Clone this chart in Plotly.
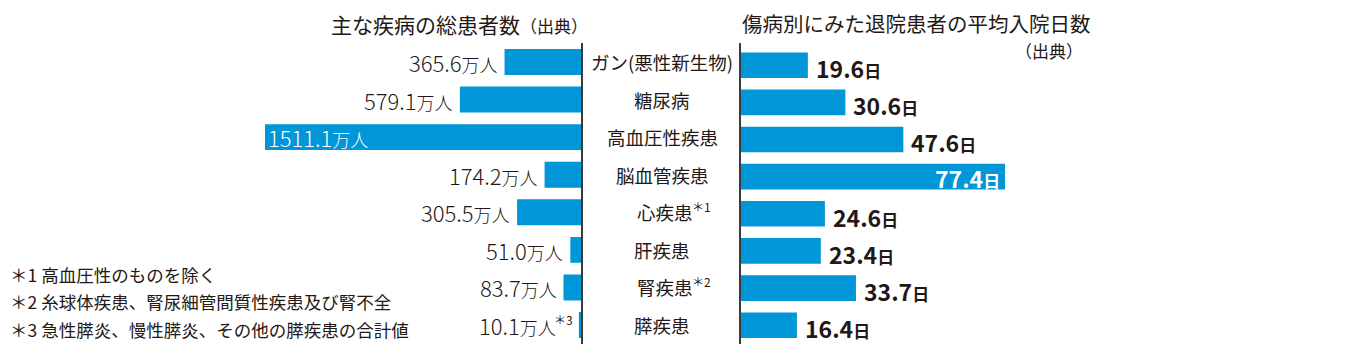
import plotly.graph_objects as go

# ---- data ----
categories = ["ガン(悪性新生物)", "糖尿病", "高血圧性疾患", "脳血管疾患",
              "心疾患", "肝疾患", "腎疾患", "膵疾患"]
category_notes = ["", "", "", "", "＊1", "", "＊2", ""]
patients = [365.6, 579.1, 1511.1, 174.2, 305.5, 51.0, 83.7, 10.1]   # 万人
patient_notes = ["", "", "", "", "", "", "", "＊3"]
days = [19.6, 30.6, 47.6, 77.4, 24.6, 23.4, 33.7, 16.4]             # 日
left_title = "主な疾病の総患者数"
right_title = "傷病別にみた退院患者の平均入院日数"
source_label = "（出典）"
footnotes = ["＊1 高血圧性のものを除く",
             "＊2 糸球体疾患、腎尿細管間質性疾患及び腎不全",
             "＊3 急性膵炎、慢性膵炎、その他の膵疾患の合計値"]

# ---- styling ----
W, H = 1360, 361
OFF = 8  # page body margin offset
BLUE = "#0096d8"
INK = "#231815"
FONT = "Noto Sans CJK JP"
CAT_SIZE = 18.5
NOTE_SIZE = 12

def px_x(p):
    return (p - OFF) / W

def px_y(p):
    return 1 - (p - OFF) / H

fig = go.Figure()
fig.add_trace(go.Bar(x=patients, y=categories, orientation="h",
                     marker=dict(color=BLUE, line=dict(width=0)),
                     width=0.69, xaxis="x", yaxis="y", hoverinfo="skip",
                     cliponaxis=False))
fig.add_trace(go.Bar(x=days, y=categories, orientation="h",
                     marker=dict(color=BLUE, line=dict(width=0)),
                     width=0.69, xaxis="x2", yaxis="y2", hoverinfo="skip",
                     cliponaxis=False))

y_dom = [px_y(343.8), px_y(43.2)]
fig.update_layout(
    width=W, height=H, margin=dict(l=0, r=0, t=0, b=0),
    paper_bgcolor="white", plot_bgcolor="rgba(0,0,0,0)",
    showlegend=False, bargap=0.31,
    font=dict(family=FONT, color=INK),
    xaxis=dict(domain=[px_x(265), px_x(581)], range=[max(patients), 0],
               visible=False, fixedrange=True),
    yaxis=dict(domain=y_dom, anchor="x", side="right", autorange="reversed",
               showticklabels=False, ticks="", showline=True,
               linecolor="#3a3a3a", linewidth=1.5, showgrid=False,
               type="category"),
    xaxis2=dict(domain=[px_x(741), px_x(1005)], range=[0, max(days)],
                visible=False, fixedrange=True),
    yaxis2=dict(domain=y_dom, anchor="x2", side="left", autorange="reversed",
                showticklabels=False, ticks="", showline=True,
                linecolor="#3a3a3a", linewidth=1.5, showgrid=False,
                type="category"),
)

ann = []
pmax = max(patients)
for cat, v, note in zip(categories, patients, patient_notes):
    txt = f"{v:.1f}<span style='font-size:18px'>万人</span>"
    if v == pmax:
        ann.append(dict(x=v, y=cat, xref="x", yref="y", text=txt,
                        xanchor="left", xshift=1, showarrow=False,
                        font=dict(size=22, color="white", family=FONT, weight=300)))
    else:
        shift = -5
        if note:
            ann.append(dict(x=v, y=cat, xref="x", yref="y", text=note,
                            xanchor="right", xshift=-4, yshift=6, showarrow=False,
                            font=dict(size=NOTE_SIZE, color=INK, family=FONT)))
            shift = -21
        ann.append(dict(x=v, y=cat, xref="x", yref="y", text=txt,
                        xanchor="right", xshift=shift, showarrow=False,
                        font=dict(size=22, color=INK, family=FONT, weight=300)))

dmax = max(days)
for cat, v in zip(categories, days):
    txt = f"<b>{v:.1f}</b><span style='font-size:17px'><b>日</b></span>"
    if v == dmax:
        ann.append(dict(x=v, y=cat, xref="x2", yref="y2", text=txt,
                        xanchor="right", xshift=-3, yshift=-1, showarrow=False,
                        font=dict(size=23, color="white", family=FONT)))
    else:
        ann.append(dict(x=v, y=cat, xref="x2", yref="y2", text=txt,
                        xanchor="left", xshift=6, yshift=-3, showarrow=False,
                        font=dict(size=23, color=INK, family=FONT)))

for cat, note in zip(categories, category_notes):
    cx = 662
    if note:
        cx = 665
        half = len(cat) * CAT_SIZE / 2
        ann.append(dict(x=px_x(cx + half - 3), y=cat, xref="paper", yref="y",
                        text=note, xanchor="left", yshift=6, showarrow=False,
                        font=dict(size=NOTE_SIZE, color=INK, family=FONT)))
    ann.append(dict(x=px_x(cx), y=cat, xref="paper", yref="y", text=cat,
                    xanchor="center", showarrow=False,
                    font=dict(size=CAT_SIZE, color=INK, family=FONT)))

ann.append(dict(x=px_x(329), y=px_y(24), xref="paper", yref="paper",
                text=f"{left_title}<span style='font-size:17px'>{source_label}</span>",
                xanchor="left", yanchor="middle", showarrow=False,
                font=dict(size=21, color=INK, family=FONT)))
ann.append(dict(x=px_x(740), y=px_y(23), xref="paper", yref="paper",
                text=right_title, xanchor="left", yanchor="middle", showarrow=False,
                font=dict(size=20.5, color=INK, family=FONT)))
ann.append(dict(x=px_x(1085), y=px_y(51), xref="paper", yref="paper",
                text=source_label, xanchor="right", yanchor="middle", showarrow=False,
                font=dict(size=17, color=INK, family=FONT)))

for i, fn in enumerate(footnotes):
    ann.append(dict(x=px_x(8), y=px_y(274 + 27.5 * i), xref="paper", yref="paper",
                    text=fn, xanchor="left", yanchor="middle", showarrow=False,
                    font=dict(size=17.5, color=INK, family=FONT)))

fig.update_layout(annotations=ann)
fig.write_html("out.html")
